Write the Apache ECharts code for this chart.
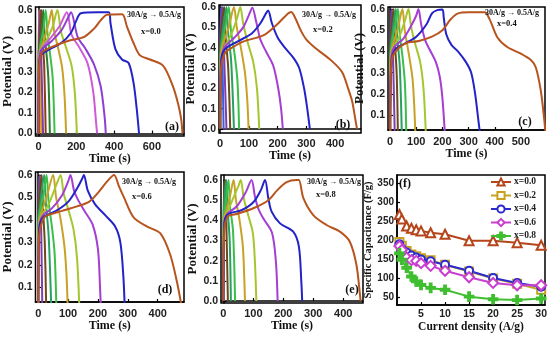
<!DOCTYPE html>
<html><head><meta charset="utf-8">
<script src="https://cdn.jsdelivr.net/npm/echarts@6/dist/echarts.min.js"></script>
<style>html,body{margin:0;padding:0;background:#fff}#c{width:550px;height:338px}</style>
</head><body><div id="c"></div>
<script>
// ---------- DATA ----------
// GCD curves, each curve = [[time (s), potential (V)], ...], from 0.5 A/g (first) to 30 A/g (last)
const gcdA = [
 [[0,0],[2,0.3],[16,0.39],[68,0.42],[155,0.45],[242,0.47],[294,0.51],[329,0.55],[363,0.577],[442,0.58],[468,0.52],[503,0.44],[537,0.38],[590,0.36],[659,0.33],[711,0.23],[740,0.14],[755,0.07],[762,0]],
 [[0,0],[2,0.3],[12,0.38],[60,0.41],[120,0.44],[172,0.49],[198,0.545],[224,0.585],[311,0.59],[372,0.59],[381,0.536],[407,0.41],[442,0.36],[477,0.343],[503,0.246],[520,0.118],[532,0]],
 [[0,0],[2,0.3],[12,0.40],[70,0.45],[120,0.50],[155,0.56],[172,0.59],[207,0.47],[250,0.41],[294,0.335],[329,0.23],[350,0.08],[356,0]],
 [[0,0],[2,0.31],[10,0.40],[60,0.46],[110,0.52],[150,0.59],[175,0.48],[215,0.42],[260,0.34],[290,0.2],[305,0.05],[310,0]],
 [[0,0],[2,0.33],[10,0.40],[40,0.45],[75,0.52],[100,0.6],[118,0.5],[145,0.42],[175,0.33],[192,0.2],[203,0]],
 [[0,0],[2,0.34],[8,0.40],[30,0.46],[55,0.54],[70,0.6],[82,0.5],[105,0.41],[125,0.32],[138,0.18],[146,0]],
 [[0,0],[2,0.36],[8,0.42],[25,0.5],[38,0.6],[48,0.48],[62,0.38],[75,0.27],[85,0]],
 [[0,0],[2,0.37],[8,0.44],[18,0.52],[25,0.6],[33,0.47],[45,0.36],[53,0.25],[60,0]],
 [[0,0],[1,0.38],[6,0.46],[15,0.6],[22,0.45],[30,0.33],[38,0]],
 [[0,0],[1,0.4],[8,0.6],[13,0.43],[24,0]],
 [[0,0],[1,0.45],[4,0.6],[8,0.42],[14,0]]
];
const gcdB = [
 [[0,0],[3,0.3],[15,0.37],[30,0.39],[80,0.43],[150,0.46],[195,0.51],[230,0.56],[247,0.575],[260,0.55],[282,0.48],[300,0.44],[330,0.40],[388,0.335],[424,0.28],[445,0.2],[459,0.137],[470,0.05],[476,0]],
 [[0,0],[3,0.32],[15,0.39],[60,0.43],[110,0.47],[140,0.52],[160,0.57],[167,0.583],[180,0.52],[200,0.45],[225,0.40],[255,0.35],[275,0.3],[292,0.2],[303,0.1],[312,0]],
 [[0,0],[3,0.33],[15,0.40],[50,0.45],[80,0.50],[100,0.56],[112,0.597],[125,0.53],[140,0.44],[160,0.38],[185,0.31],[202,0.2],[212,0.1],[218,0]],
 [[0,0],[3,0.35],[15,0.40],[40,0.47],[60,0.55],[70,0.6],[80,0.52],[95,0.43],[115,0.33],[128,0.2],[136,0]],
 [[0,0],[2,0.36],[10,0.42],[30,0.5],[48,0.6],[58,0.5],[72,0.4],[86,0.28],[94,0.15],[99,0]],
 [[0,0],[2,0.37],[8,0.43],[20,0.52],[30,0.6],[38,0.48],[50,0.37],[60,0.24],[66,0]],
 [[0,0],[1,0.38],[6,0.45],[22,0.6],[28,0.47],[38,0.34],[48,0]],
 [[0,0],[1,0.4],[14,0.6],[19,0.45],[28,0.3],[35,0]],
 [[0,0],[1,0.42],[8,0.6],[12,0.44],[22,0]],
 [[0,0],[1,0.45],[4,0.6],[7,0.42],[12,0]]
];
const gcdC = [
 [[0,0],[5,0.35],[20,0.40],[60,0.44],[110,0.45],[160,0.47],[200,0.50],[230,0.55],[260,0.58],[300,0.585],[361,0.585],[380,0.553],[411,0.465],[449,0.42],[500,0.39],[538,0.36],[557,0.325],[576,0.215],[589,0.08],[595,0]],
 [[0,0],[5,0.35],[20,0.41],[60,0.44],[100,0.47],[140,0.53],[160,0.58],[180,0.595],[200,0.598],[205,0.56],[215,0.48],[235,0.43],[260,0.40],[290,0.35],[310,0.30],[325,0.2],[338,0.07],[345,0]],
 [[0,0],[4,0.36],[15,0.42],[50,0.46],[80,0.52],[100,0.57],[108,0.6],[120,0.52],[135,0.45],[155,0.40],[175,0.35],[190,0.28],[200,0.18],[210,0]],
 [[0,0],[3,0.37],[12,0.42],[35,0.47],[58,0.55],[70,0.6],[80,0.52],[95,0.44],[115,0.35],[128,0.22],[137,0]],
 [[0,0],[2,0.38],[10,0.43],[30,0.51],[47,0.6],[56,0.5],[70,0.4],[85,0.28],[92,0.15],[97,0]],
 [[0,0],[2,0.39],[8,0.45],[20,0.53],[30,0.6],[37,0.48],[48,0.37],[57,0.24],[62,0]],
 [[0,0],[1,0.4],[6,0.46],[22,0.6],[27,0.47],[37,0.33],[45,0]],
 [[0,0],[1,0.42],[14,0.6],[18,0.45],[25,0.3],[30,0]],
 [[0,0],[1,0.45],[7,0.6],[10,0.45],[18,0]]
];
const gcdD = [
 [[0,0],[3,0.33],[15,0.40],[30,0.42],[80,0.44],[130,0.46],[170,0.48],[200,0.52],[230,0.57],[254,0.6],[270,0.55],[287,0.5],[320,0.41],[365,0.37],[409,0.34],[442,0.245],[464,0.127],[478,0.03],[482,0]],
 [[0,0],[3,0.35],[15,0.41],[60,0.44],[100,0.48],[130,0.54],[148,0.585],[153,0.6],[166,0.53],[190,0.47],[225,0.42],[258,0.37],[275,0.30],[285,0.15],[290,0]],
 [[0,0],[3,0.36],[15,0.42],[45,0.45],[80,0.51],[100,0.57],[108,0.6],[120,0.53],[133,0.49],[155,0.44],[182,0.38],[200,0.27],[207,0.1],[210,0]],
 [[0,0],[3,0.38],[12,0.42],[35,0.47],[62,0.56],[75,0.6],[85,0.52],[100,0.45],[118,0.36],[130,0.23],[138,0]],
 [[0,0],[2,0.39],[10,0.43],[30,0.51],[50,0.6],[60,0.5],[74,0.41],[88,0.28],[95,0.15],[99,0]],
 [[0,0],[2,0.4],[8,0.45],[20,0.53],[28,0.6],[35,0.48],[45,0.38],[55,0.25],[61,0]],
 [[0,0],[1,0.41],[6,0.46],[20,0.6],[26,0.47],[35,0.33],[44,0]],
 [[0,0],[1,0.42],[12,0.6],[16,0.45],[22,0.3],[27,0]],
 [[0,0],[1,0.45],[6,0.6],[9,0.45],[14,0]]
];
const gcdE = [
 [[0,0],[3,0.35],[15,0.42],[40,0.43],[100,0.46],[150,0.50],[180,0.55],[211,0.59],[245,0.6],[252,0.6],[267,0.51],[300,0.426],[344,0.377],[389,0.344],[422,0.294],[444,0.18],[456,0.03],[458,0]],
 [[0,0],[3,0.38],[15,0.43],[60,0.45],[100,0.49],[125,0.55],[139,0.6],[150,0.51],[161,0.443],[189,0.385],[233,0.344],[252,0.27],[260,0.1],[263,0]],
 [[0,0],[3,0.39],[12,0.43],[45,0.47],[75,0.54],[94,0.6],[105,0.52],[116,0.46],[133,0.41],[162,0.34],[175,0.2],[181,0]],
 [[0,0],[2,0.4],[10,0.43],[30,0.5],[50,0.57],[58,0.6],[68,0.51],[82,0.43],[98,0.34],[105,0.2],[110,0]],
 [[0,0],[2,0.41],[8,0.44],[22,0.52],[34,0.6],[42,0.5],[54,0.4],[65,0.27],[70,0.1],[72,0]],
 [[0,0],[1,0.42],[6,0.46],[17,0.6],[22,0.47],[32,0.35],[39,0]],
 [[0,0],[1,0.42],[10,0.6],[14,0.46],[21,0.3],[25,0]],
 [[0,0],[1,0.45],[6,0.6],[9,0.45],[15,0]]
];
// Panel (f): specific capacitance vs current density
const currentDensity = [0.5, 1, 2, 3, 4, 5, 7, 10, 15, 20, 25, 30];
const capX00 = [268, 256, 238, 232, 228, 225, 220, 216, 199, 199, 194, 187];
const capX02 = [196, 186, 172, 163, 158, 153, 148, 136, 118, 100, 86, 70];
const capX04 = [190, 178, 168, 160, 155, 150, 145, 136, 120, 101, 88, 78];
const capX06 = [185, 175, 155, 148, 146, 140, 133, 120, 103, 88, 82, 82];
const capX08 = [166, 149, 128, 105, 92, 83, 75, 70, 52, 45, 43, 47];
const compNames = ['x=0.0', 'x=0.2', 'x=0.4', 'x=0.6', 'x=0.8'];
// Tick labels
const potentialTicks = [0, 0.1, 0.2, 0.3, 0.4, 0.5, 0.6];
const potentialTicksNoZero = [0.1, 0.2, 0.3, 0.4, 0.5, 0.6];
const timeTicksA = [0, 200, 400, 600];
const timeTicksB = [0, 100, 200, 300, 400];
const timeTicksC = [0, 100, 200, 300, 400, 500];
const timeTicksDE = [0, 100, 200, 300, 400];
const capTicks = [50, 100, 150, 200, 250, 300, 350];
const densityTicks = [5, 10, 15, 20, 25, 30];

// ---------- STYLE / LAYOUT ----------
const colorsA = ['#b8541e','#2323c8','#8e3fd2','#cf5ad8','#a6c630','#c8a226','#3cbf48','#2e7a30','#8a3d1a','#7b3fae','#e0a020'];
const colorsBE = ['#b8541e','#2323c8','#a43ed4','#a6c630','#c8a226','#3cbf48','#27a064','#6b4a1a','#7b3fae','#3b5bd8'];
const serif = '"Liberation Serif", "Times New Roman", serif';
const sans = '"Liberation Sans", Arial, sans-serif';

const panels = [
 {grid:{left:34,top:7,width:150,height:129}, x:[-16,770], y:[-0.012,0.615], xt:timeTicksA, yt:potentialTicks, xg:17, yg:19, lm:5, data:gcdA, colors:colorsA},
 {grid:{left:219,top:5,width:142,height:128}, x:[-4,490], y:[-0.02,0.61], xt:timeTicksB, yt:potentialTicks, xg:14, yg:17, lm:5, data:gcdB, colors:colorsBE},
 {grid:{left:388,top:7,width:157,height:123}, x:[-8,592], y:[0.03,0.61], xt:timeTicksC, yt:potentialTicksNoZero, xg:15, yg:11, lm:6, data:gcdC, colors:colorsBE},
 {grid:{left:35,top:172,width:149,height:130}, x:[-9,488], y:[0.035,0.613], xt:timeTicksDE, yt:potentialTicksNoZero, xg:17, yg:17, lm:6, data:gcdD, colors:colorsBE},
 {grid:{left:221,top:175,width:142,height:128}, x:[-8,466], y:[-0.01,0.625], xt:timeTicksDE, yt:potentialTicks, xg:15, yg:16, lm:5, data:gcdE, colors:colorsBE}
];

const grids = [], xAxes = [], yAxes = [], series = [];
const axisLineStyle = {show:true, lineStyle:{color:'#000', width:1.5}};
const tickStyle = {show:true, inside:true, length:3, lineStyle:{color:'#000', width:1.2}};

panels.forEach((p, i) => {
  grids.push(Object.assign({show:true, borderColor:'#000', borderWidth:1.5, backgroundColor:'transparent'}, p.grid));
  xAxes.push({type:'value', gridIndex:i, min:p.x[0], max:p.x[1],
    name:'Time (s)', nameLocation:'middle', nameGap:p.xg,
    nameTextStyle:{fontFamily:serif, fontWeight:'bold', fontSize:12, color:'#111'},
    axisLine:axisLineStyle, axisTick:Object.assign({customValues:p.xt}, tickStyle),
    axisLabel:{customValues:p.xt, margin:p.lm, fontFamily:sans, fontWeight:'bold', fontSize:11, color:'#222'},
    splitLine:{show:false}});
  yAxes.push({type:'value', gridIndex:i, min:p.y[0], max:p.y[1],
    name:'Potential (V)', nameLocation:'middle', nameGap:p.yg,
    nameTextStyle:{fontFamily:serif, fontWeight:'bold', fontSize:13, color:'#111'},
    axisLine:axisLineStyle, axisTick:Object.assign({customValues:p.yt}, tickStyle),
    axisLabel:{customValues:p.yt, margin:3, fontFamily:sans, fontWeight:'bold', fontSize:10.5, color:'#222',
      formatter:v => Number(v).toFixed(1)},
    splitLine:{show:false}});
  p.data.forEach((curve, k) => {
    series.push({type:'line', xAxisIndex:i, yAxisIndex:i, data:curve, smooth:0.3,
      showSymbol:false, symbol:'none', silent:true, z: 2 + (p.data.length - k) * 0.01,
      lineStyle:{color:p.colors[k], width:2}, itemStyle:{color:p.colors[k]}});
  });
});

// Panel (f)
grids.push({left:397, top:175, width:150, height:130, show:true, borderColor:'#000', borderWidth:1.5});
xAxes.push({type:'value', gridIndex:5, min:0, max:30.8,
  name:'Current density (A/g)', nameLocation:'middle', nameGap:13,
  nameTextStyle:{fontFamily:serif, fontWeight:'bold', fontSize:11.5, color:'#111'},
  axisLine:axisLineStyle, axisTick:Object.assign({customValues:densityTicks}, tickStyle),
  axisLabel:{customValues:densityTicks, margin:4, fontFamily:sans, fontWeight:'bold', fontSize:10.5, color:'#222'},
  splitLine:{show:false}});
yAxes.push({type:'value', gridIndex:5, min:30, max:372,
  name:'Specific Capacitance (F/g)', nameLocation:'middle', nameGap:20,
  nameTextStyle:{fontFamily:serif, fontWeight:'bold', fontSize:10.5, color:'#111'},
  axisLine:axisLineStyle, axisTick:Object.assign({customValues:capTicks}, tickStyle),
  axisLabel:{customValues:capTicks, margin:3, fontFamily:sans, fontWeight:'bold', fontSize:10, color:'#222'},
  splitLine:{show:false}});

const capSets = [capX00, capX02, capX04, capX06, capX08];
const capColors = ['#b5451b', '#c9a21c', '#2a2ad0', '#c83fd0', '#3fbf2f'];
const capSymbols = ['emptyTriangle', 'emptyRect', 'emptyCircle', 'emptyDiamond',
  'path://M3,0 L5,0 L5,3 L8,3 L8,5 L5,5 L5,8 L3,8 L3,5 L0,5 L0,3 L3,3 Z'];
const capSizes = [9, 8, 8, 10, 9];
capSets.forEach((vals, k) => {
  series.push({type:'line', name:compNames[k], xAxisIndex:5, yAxisIndex:5,
    data: currentDensity.map((c, j) => [c, vals[j]]),
    symbol:capSymbols[k], symbolSize:capSizes[k], showSymbol:true, clip:false,
    lineStyle:{color:capColors[k], width:2},
    itemStyle:{color:capColors[k], borderColor:capColors[k], borderWidth:1.6}});
});

// annotations
const annFont = 'bold 8px ' + serif;
const xFont = 'bold 8.5px ' + serif;
const letFont = 'bold 12px ' + serif;
function txt(t, x, y, font, align) {
  return {type:'text', x:x, y:y, z:100, silent:true,
    style:{text:t, font:font, fill:'#111', textAlign:align || 'left', textVerticalAlign:'middle'}};
}
const arrowText = '30A/g \u2192 0.5A/g';
const graphics = [
  txt(arrowText, 127, 15, annFont), txt('x=0.0', 141, 32, xFont),
  txt(arrowText, 302, 15, annFont), txt('x=0.2', 313, 30, xFont),
  txt(arrowText, 485, 13, annFont), txt('x=0.4', 497, 24, xFont),
  txt(arrowText, 122, 182, annFont), txt('x=0.6', 132, 197, xFont),
  txt(arrowText, 307, 182, annFont), txt('x=0.8', 316, 195, xFont),
  txt('(a)', 172, 127, letFont, 'center'), txt('(b)', 343, 125, letFont, 'center'),
  txt('(c)', 525, 122, letFont, 'center'), txt('(d)', 165, 290, letFont, 'center'),
  txt('(e)', 352, 290, letFont, 'center'), txt('(f)', 405, 184, letFont, 'center')
];

const chart = echarts.init(document.getElementById('c'), null, {renderer:'canvas'});
chart.setOption({
  animation:false,
  backgroundColor:'#fff',
  grid:grids, xAxis:xAxes, yAxis:yAxes, series:series,
  legend:{data:compNames, orient:'vertical', left:490, top:177, padding:0, itemWidth:20, itemHeight:9, itemGap:3.5,
    textStyle:{fontFamily:serif, fontWeight:'bold', fontSize:9.5, color:'#222', padding:[0,0,0,-2]}, selectedMode:false},
  graphic:graphics
});
</script></body></html>
